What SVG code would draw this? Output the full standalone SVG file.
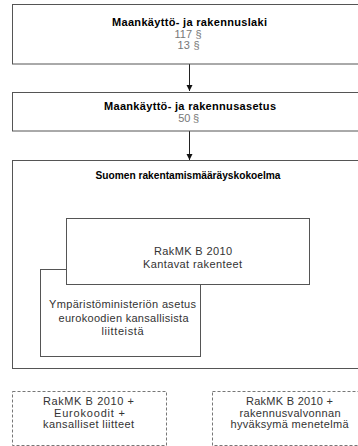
<svg xmlns="http://www.w3.org/2000/svg" width="358" height="446" viewBox="0 0 358 446">
<defs>
<style>
.box{fill:#fff;stroke:#555;stroke-width:1}
.dbox{fill:#fff;stroke:#777;stroke-width:1;stroke-dasharray:3,2}
.t{font-family:"Liberation Sans",Arial,sans-serif;font-size:11px;text-anchor:middle;fill:#333}
.b{font-weight:bold;fill:#000}
.g{fill:#777}
.c{stroke:#222;stroke-width:1;fill:none}
</style>
<marker id="ah" markerWidth="8" markerHeight="8" refX="6" refY="3" orient="auto" markerUnits="userSpaceOnUse">
<path d="M0,0 L6,3 L0,6 z" fill="#111"/>
</marker>
</defs>
<rect width="358" height="446" fill="#fff"/>
<g id="connectors">
<line class="c" x1="189.5" y1="64" x2="189.5" y2="91" marker-end="url(#ah)"/>
<line class="c" x1="189.5" y1="131" x2="189.5" y2="160" marker-end="url(#ah)"/>
</g>
<g id="n-laki">
<rect class="box" x="12.5" y="4.5" width="355" height="59.5"/>
<text class="t b" x="189.5" y="25.5" textLength="155" lengthAdjust="spacing">Maankäyttö- ja rakennuslaki</text>
<text class="t g" x="188" y="37.5" textLength="27" lengthAdjust="spacing">117 §</text>
<text class="t g" x="188.5" y="48.5" textLength="22" lengthAdjust="spacing">13 §</text>
</g>
<g id="n-asetus">
<rect class="box" x="12.5" y="92.5" width="355" height="38.5"/>
<text class="t b" x="190" y="109.5" textLength="172" lengthAdjust="spacing">Maankäyttö- ja rakennusasetus</text>
<text class="t g" x="188.7" y="121.5" textLength="21" lengthAdjust="spacing">50 §</text>
</g>
<g id="n-kokoelma">
<rect class="box" x="12.5" y="160.5" width="355" height="208"/>
<text class="t b" x="188" y="179" style="font-size:10.5px" textLength="185" lengthAdjust="spacingAndGlyphs">Suomen rakentamismääräyskokoelma</text>
</g>
<g id="n-ympariston">
<rect class="box" x="40.5" y="269.5" width="160" height="87"/>
<text class="t" x="122.5" y="308" textLength="147" lengthAdjust="spacing">Ympäristöministeriön asetus</text>
<text class="t" x="123.5" y="321.5" textLength="130" lengthAdjust="spacing">eurokoodien kansallisista</text>
<text class="t" x="122.5" y="335" textLength="42" lengthAdjust="spacing">liitteistä</text>
</g>
<g id="n-rakmk">
<rect class="box" x="66.5" y="218.5" width="243" height="66"/>
<text class="t" x="193" y="254.5" textLength="78" lengthAdjust="spacing">RakMK B 2010</text>
<text class="t" x="192.5" y="267.5" textLength="99" lengthAdjust="spacing">Kantavat rakenteet</text>
</g>
<g id="n-euro">
<rect class="dbox" x="12.5" y="391.5" width="154" height="54"/>
<text class="t" x="88.5" y="405" textLength="91" lengthAdjust="spacing">RakMK B 2010 +</text>
<text class="t" x="89.5" y="416.5" textLength="71" lengthAdjust="spacing">Eurokoodit +</text>
<text class="t" x="88.5" y="428" textLength="91" lengthAdjust="spacing">kansalliset liitteet</text>
</g>
<g id="n-valvonta">
<rect class="dbox" x="212.5" y="391.5" width="153" height="54"/>
<text class="t" x="289.5" y="405" textLength="87" lengthAdjust="spacing">RakMK B 2010 +</text>
<text class="t" x="290" y="416.5" textLength="101" lengthAdjust="spacing">rakennusvalvonnan</text>
<text class="t" x="289.5" y="428" textLength="118" lengthAdjust="spacing">hyväksymä menetelmä</text>
</g>
</svg>
